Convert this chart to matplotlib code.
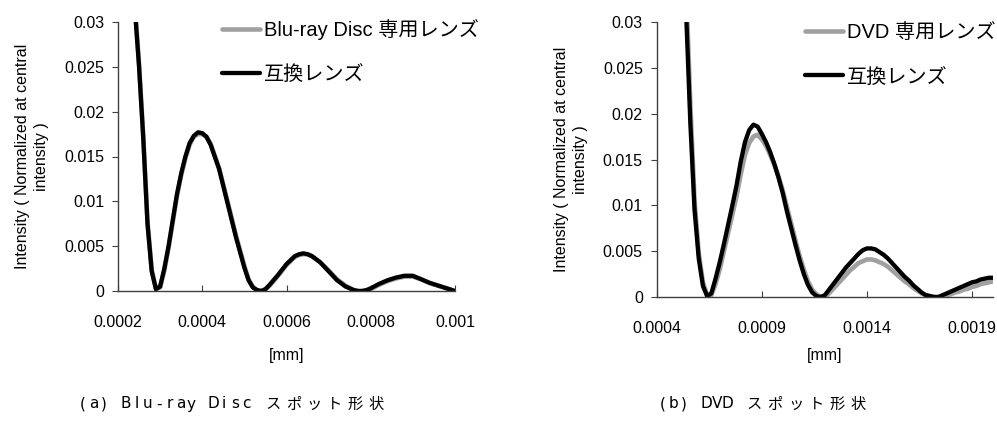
import numpy as np
import matplotlib
matplotlib.use('Agg')
import matplotlib.pyplot as plt

plt.rcParams['font.family'] = ['Liberation Sans', 'Noto Sans CJK JP']

# (a) Blu-ray Disc, x in units of 1e-5 mm
bd_x = [24, 25, 26, 27, 28, 29, 30, 31, 32, 34, 35, 36, 37, 38, 39, 40, 41, 42, 44, 46,
        48, 50, 51, 52, 53, 54, 55, 56, 58, 60, 62, 63, 64, 65, 66, 68, 70, 72, 74, 76,
        77, 78, 79, 80, 82, 84, 86, 88, 89, 90, 92, 94, 96, 98, 100]
bd_compat = [0.0315, 0.0250, 0.0170, 0.0075, 0.0022, 0.0002, 0.0005, 0.0025, 0.0050,
             0.0108, 0.0131, 0.0150, 0.0165, 0.0173, 0.0177, 0.0176, 0.0172, 0.0163,
             0.0136, 0.0098, 0.0060, 0.0026, 0.0012, 0.0004, 0.0001, 0.0000, 0.0002,
             0.0007, 0.0018, 0.0030, 0.0039, 0.0041, 0.0042, 0.0041, 0.0039, 0.0032,
             0.0022, 0.0012, 0.0005, 0.0001, 0.0000, 0.0000, 0.0001, 0.0003, 0.0008,
             0.0012, 0.0015, 0.0017, 0.0017, 0.0017, 0.0013, 0.0009, 0.0006, 0.0003,
             0.0000]
bd_only = [0.0318, 0.0253, 0.0173, 0.0078, 0.0024, 0.0003, 0.0004, 0.0023, 0.0048,
           0.0106, 0.0129, 0.0148, 0.0163, 0.0172, 0.0175, 0.0175, 0.0172, 0.0164,
           0.0137, 0.0100, 0.0062, 0.0028, 0.0013, 0.0005, 0.0001, 0.0000, 0.0002,
           0.0006, 0.0017, 0.0029, 0.0038, 0.0040, 0.0041, 0.0041, 0.0039, 0.0032,
           0.0023, 0.0013, 0.0006, 0.0001, 0.0000, 0.0000, 0.0001, 0.0002, 0.0007,
           0.0011, 0.0014, 0.0016, 0.0016, 0.0016, 0.0013, 0.0009, 0.0006, 0.0003,
           0.0000]

# (b) DVD, x in units of 1e-5 mm
dvd_x = [54, 56, 58, 60, 62, 64, 66, 68, 70, 72, 74, 76, 78, 80, 82, 84, 86, 88, 90,
         92, 94, 96, 98, 100, 102, 104, 106, 108, 110, 112, 114, 116, 118, 120, 122,
         124, 126, 128, 130, 132, 134, 136, 138, 140, 142, 144, 146, 148, 150, 152,
         154, 156, 158, 160, 162, 164, 166, 168, 170, 172, 174, 176, 178, 180, 182,
         184, 186, 188, 190, 192, 194, 196, 198, 200]
dvd_compat = [0.0310, 0.0190, 0.0095, 0.0042, 0.0012, 0.0001, 0.0004, 0.0020, 0.0038,
              0.0058, 0.0079, 0.0100, 0.0122, 0.0148, 0.0169, 0.0182, 0.0188, 0.0186,
              0.0178, 0.0169, 0.0158, 0.0145, 0.0130, 0.0113, 0.0093, 0.0075, 0.0057,
              0.0040, 0.0025, 0.0013, 0.0005, 0.0001, 0.0000, 0.0002, 0.0008, 0.0014,
              0.0020, 0.0026, 0.0032, 0.0037, 0.0042, 0.0047, 0.0051, 0.0053, 0.0053,
              0.0052, 0.0049, 0.0046, 0.0042, 0.0037, 0.0032, 0.0027, 0.0022, 0.0018,
              0.0013, 0.0009, 0.0005, 0.0002, 0.0001, 0.0000, 0.0000, 0.0002, 0.0004,
              0.0006, 0.0008, 0.0010, 0.0012, 0.0014, 0.0016, 0.0017, 0.0019, 0.0020,
              0.0021, 0.0021]
dvd_only = [0.0340, 0.0210, 0.0105, 0.0048, 0.0016, 0.0002, 0.0002, 0.0014, 0.0030,
            0.0050, 0.0070, 0.0090, 0.0110, 0.0134, 0.0155, 0.0168, 0.0175, 0.0177,
            0.0172, 0.0165, 0.0155, 0.0144, 0.0131, 0.0116, 0.0098, 0.0080, 0.0062,
            0.0045, 0.0030, 0.0017, 0.0008, 0.0003, 0.0000, 0.0000, 0.0004, 0.0009,
            0.0014, 0.0019, 0.0024, 0.0029, 0.0033, 0.0037, 0.0039, 0.0041, 0.0041,
            0.0040, 0.0038, 0.0036, 0.0033, 0.0029, 0.0025, 0.0021, 0.0017, 0.0014,
            0.0010, 0.0007, 0.0004, 0.0002, 0.0001, 0.0000, 0.0000, 0.0000, 0.0002,
            0.0003, 0.0005, 0.0006, 0.0008, 0.0009, 0.0011, 0.0012, 0.0014, 0.0015,
            0.0016, 0.0017]

y_ticks = [0, 0.005, 0.01, 0.015, 0.02, 0.025, 0.03]
y_labels = ['0', '0.005', '0.01', '0.015', '0.02', '0.025', '0.03']
bd_ticks = [0.0002, 0.0004, 0.0006, 0.0008, 0.001]
bd_tick_labels = ['0.0002', '0.0004', '0.0006', '0.0008', '0.001']
dvd_ticks = [0.0004, 0.0009, 0.0014, 0.0019]
dvd_tick_labels = ['0.0004', '0.0009', '0.0014', '0.0019']

fig = plt.figure(figsize=(9.97, 4.21), dpi=100)
ax1 = fig.add_axes([118/997, 1-291/421, 337/997, 269/421])
ax2 = fig.add_axes([656.7/997, 1-297/421, 336.3/997, 275/421])

panels = [
    (ax1, bd_x, bd_only, bd_compat, 'Blu-ray Disc 専用レンズ', (0.0002, 0.001),
     bd_ticks, bd_tick_labels, (0.309, 1.01), -57/269),
    (ax2, dvd_x, dvd_only, dvd_compat, 'DVD 専用レンズ', (0.0004, 0.002),
     dvd_ticks, dvd_tick_labels, (0.441, 0.995), -51/275),
]

for ax, xs, only, compat, lab, xl, ticks, tlabels, anchor, xlab_y in panels:
    x = np.array(xs) * 1e-5
    ax.plot(x, only, color='#a0a0a0', lw=3.3, label=lab, solid_capstyle='round')
    ax.plot(x, compat, color='black', lw=3.1, label='互換レンズ', solid_capstyle='round')
    ax.set_xlim(xl)
    ax.set_ylim(0, 0.03)
    ax.set_yticks(y_ticks)
    ax.set_yticklabels(y_labels, fontsize=11.5)
    ax.set_xticks(ticks)
    ax.set_xticklabels(tlabels, fontsize=11.5)
    ax.tick_params(axis='x', direction='in', length=4, pad=17, color='#404040')
    ax.tick_params(axis='y', direction='out', length=4, pad=6, color='#404040')
    for s in ['top', 'right']:
        ax.spines[s].set_visible(False)
    for s in ['left', 'bottom']:
        ax.spines[s].set_color('#404040')
        ax.spines[s].set_linewidth(1.0)
    ax.set_ylabel('Intensity ( Normalized at central\nintensity )', fontsize=11.5,
                  linespacing=1.3, multialignment='center')
    ax.yaxis.set_label_coords(-0.205, 0.5)
    ax.set_xlabel('[mm]', fontsize=11.5)
    ax.xaxis.set_label_coords(0.5, xlab_y)
    ax.legend(loc='upper left', bbox_to_anchor=anchor, frameon=False, fontsize=14.5,
              handlelength=1.9, handletextpad=0.2, labelspacing=1.25, borderpad=0,
              borderaxespad=0)

# captions: wide, evenly spaced glyphs (half-width ~10.9 px, full-width ~20.7 px)
cap_font = ['DejaVu Sans', 'Noto Sans CJK JP']
def caption(x0, s):
    x = x0
    for ch in s:
        w = 20.7 if ord(ch) > 0x2000 else 10.9
        fig.text((x + w / 2) / 997, 1 - 404 / 421, ch, ha='center', va='center',
                 fontsize=11, family=cap_font)
        x += w

caption(77, '(a) Blu-ray Disc スポット形状')
caption(657, '(b) DVD スポット形状')

fig.savefig('out.png', dpi=100)
